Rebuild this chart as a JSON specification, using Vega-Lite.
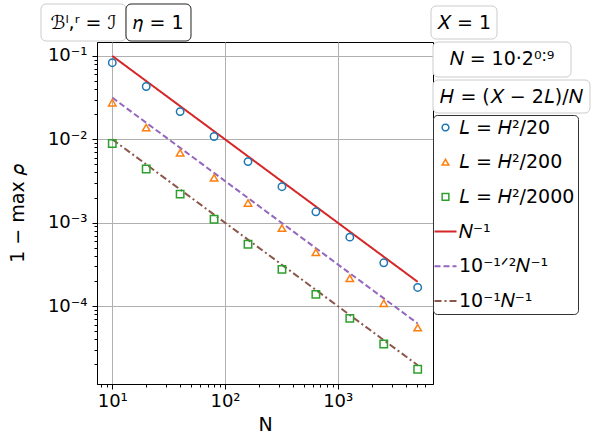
{
  "$schema": "https://vega.github.io/schema/vega-lite/v6.json",
  "width": 336,
  "height": 342,
  "autosize": {"type": "none"},
  "padding": {"left": 97, "top": 42, "right": 165, "bottom": 62},
  "background": "white",
  "config": {
    "view": {"stroke": "black", "strokeWidth": 1},
    "font": "DejaVu Sans",
    "axis": {
      "labelFont": "DejaVu Sans", "titleFont": "DejaVu Sans",
      "labelFontSize": 18, "titleFontSize": 19, "titleFontWeight": "normal",
      "labelColor": "black", "titleColor": "black",
      "domainColor": "black", "tickColor": "black",
      "gridColor": "#b0b0b0", "gridWidth": 1,
      "labelOverlap": false, "labelFlush": false
    },
    "legend": {"labelFont": "DejaVu Sans", "labelFontSize": 19, "labelColor": "black", "labelLimit": 400},
    "text": {"font": "DejaVu Sans", "fontSize": 19, "color": "black"}
  },
  "datasets": {
    "pts": [
      {"N": 10, "rho": 0.083, "series": "𝐿 = 𝐻²/20"},
      {"N": 20, "rho": 0.043, "series": "𝐿 = 𝐻²/20"},
      {"N": 40, "rho": 0.0215, "series": "𝐿 = 𝐻²/20"},
      {"N": 80, "rho": 0.0108, "series": "𝐿 = 𝐻²/20"},
      {"N": 160, "rho": 0.0054, "series": "𝐿 = 𝐻²/20"},
      {"N": 320, "rho": 0.0027, "series": "𝐿 = 𝐻²/20"},
      {"N": 640, "rho": 0.00135, "series": "𝐿 = 𝐻²/20"},
      {"N": 1280, "rho": 0.00067, "series": "𝐿 = 𝐻²/20"},
      {"N": 2560, "rho": 0.00033, "series": "𝐿 = 𝐻²/20"},
      {"N": 5120, "rho": 0.000167, "series": "𝐿 = 𝐻²/20"},
      {"N": 10, "rho": 0.0275, "series": "𝐿 = 𝐻²/200"},
      {"N": 20, "rho": 0.0138, "series": "𝐿 = 𝐻²/200"},
      {"N": 40, "rho": 0.0069, "series": "𝐿 = 𝐻²/200"},
      {"N": 80, "rho": 0.00345, "series": "𝐿 = 𝐻²/200"},
      {"N": 160, "rho": 0.00172, "series": "𝐿 = 𝐻²/200"},
      {"N": 320, "rho": 0.00086, "series": "𝐿 = 𝐻²/200"},
      {"N": 640, "rho": 0.00044, "series": "𝐿 = 𝐻²/200"},
      {"N": 1280, "rho": 0.000215, "series": "𝐿 = 𝐻²/200"},
      {"N": 2560, "rho": 0.000108, "series": "𝐿 = 𝐻²/200"},
      {"N": 5120, "rho": 0.000055, "series": "𝐿 = 𝐻²/200"},
      {"N": 10, "rho": 0.0089, "series": "𝐿 = 𝐻²/2000"},
      {"N": 20, "rho": 0.0044, "series": "𝐿 = 𝐻²/2000"},
      {"N": 40, "rho": 0.0022, "series": "𝐿 = 𝐻²/2000"},
      {"N": 80, "rho": 0.0011, "series": "𝐿 = 𝐻²/2000"},
      {"N": 160, "rho": 0.00055, "series": "𝐿 = 𝐻²/2000"},
      {"N": 320, "rho": 0.000275, "series": "𝐿 = 𝐻²/2000"},
      {"N": 640, "rho": 0.000138, "series": "𝐿 = 𝐻²/2000"},
      {"N": 1280, "rho": 0.000071, "series": "𝐿 = 𝐻²/2000"},
      {"N": 2560, "rho": 0.000035, "series": "𝐿 = 𝐻²/2000"},
      {"N": 5120, "rho": 0.0000174, "series": "𝐿 = 𝐻²/2000"}
    ],
    "lns": [
      {"N": 10, "rho": 0.1, "series": "𝑁⁻¹"},
      {"N": 5120, "rho": 0.000195, "series": "𝑁⁻¹"},
      {"N": 10, "rho": 0.0316, "series": "10⁻¹ᐟ²𝑁⁻¹"},
      {"N": 5120, "rho": 0.0000618, "series": "10⁻¹ᐟ²𝑁⁻¹"},
      {"N": 10, "rho": 0.01, "series": "10⁻¹𝑁⁻¹"},
      {"N": 5120, "rho": 0.0000195, "series": "10⁻¹𝑁⁻¹"}
    ]
  },
  "layer": [
    {
      "data": {"name": "lns"},
      "mark": {"type": "line", "strokeWidth": 2},
      "encoding": {
        "x": {
          "field": "N", "type": "quantitative",
          "scale": {"type": "log", "domain": [7.32, 7000], "nice": false},
          "axis": {
            "title": "N", "titlePadding": 5,
            "values": [8, 9, 10, 20, 30, 40, 50, 60, 70, 80, 90, 100, 200, 300, 400, 500, 600, 700, 800, 900, 1000, 2000, 3000, 4000, 5000, 6000],
            "labelExpr": "datum.value == 10 ? '10¹' : datum.value == 100 ? '10²' : datum.value == 1000 ? '10³' : ''",
            "grid": true,
            "gridOpacity": {"condition": {"test": "indexof([10, 100, 1000], datum.value) >= 0", "value": 1}, "value": 0},
            "tickSize": {"condition": {"test": "indexof([10, 100, 1000], datum.value) >= 0", "value": 5}, "value": 3},
            "labelPadding": 3
          }
        },
        "y": {
          "field": "rho", "type": "quantitative",
          "scale": {"type": "log", "domain": [0.0000116, 0.147], "nice": false},
          "axis": {
            "title": "1 − max 𝜌", "titlePadding": 20,
            "values": [0.00002, 0.00003, 0.00004, 0.00005, 0.00006, 0.00007, 0.00008, 0.00009, 0.0001, 0.0002, 0.0003, 0.0004, 0.0005, 0.0006, 0.0007, 0.0008, 0.0009, 0.001, 0.002, 0.003, 0.004, 0.005, 0.006, 0.007, 0.008, 0.009, 0.01, 0.02, 0.03, 0.04, 0.05, 0.06, 0.07, 0.08, 0.09, 0.1],
            "labelExpr": "datum.value == 0.1 ? '10⁻¹' : datum.value == 0.01 ? '10⁻²' : datum.value == 0.001 ? '10⁻³' : datum.value == 0.0001 ? '10⁻⁴' : ''",
            "grid": true,
            "gridOpacity": {"condition": {"test": "indexof([0.1, 0.01, 0.001, 0.0001], datum.value) >= 0", "value": 1}, "value": 0},
            "tickSize": {"condition": {"test": "indexof([0.1, 0.01, 0.001, 0.0001], datum.value) >= 0", "value": 5}, "value": 3},
            "labelPadding": 5
          }
        },
        "color": {
          "field": "series", "type": "nominal",
          "scale": {
            "domain": ["𝐿 = 𝐻²/20", "𝐿 = 𝐻²/200", "𝐿 = 𝐻²/2000", "𝑁⁻¹", "10⁻¹ᐟ²𝑁⁻¹", "10⁻¹𝑁⁻¹"],
            "range": ["#1f77b4", "#ff7f0e", "#2ca02c", "#d62728", "#9467bd", "#8c564b"]
          },
          "legend": {
            "title": null, "orient": "none", "legendX": 336, "legendY": 73,
            "padding": 3, "strokeColor": "#333333", "cornerRadius": 4, "fillColor": "white",
            "symbolSize": 484, "labelOffset": 4, "rowPadding": 14.7, "labelFontSize": 19,
            "encode": {
              "symbols": {
                "update": {
                  "shape": {"signal": "datum.value == '𝐿 = 𝐻²/20' ? 'circle' : datum.value == '𝐿 = 𝐻²/200' ? 'triangle-up' : datum.value == '𝐿 = 𝐻²/2000' ? 'square' : 'stroke'"},
                  "size": {"signal": "indexof(['𝑁⁻¹', '10⁻¹ᐟ²𝑁⁻¹', '10⁻¹𝑁⁻¹'], datum.value) >= 0 ? 484 : 45"},
                  "strokeDash": {"signal": "datum.value == '10⁻¹ᐟ²𝑁⁻¹' ? [6, 3] : datum.value == '10⁻¹𝑁⁻¹' ? [7, 3, 2, 3] : [1, 0]"},
                  "strokeWidth": {"signal": "indexof(['𝑁⁻¹', '10⁻¹ᐟ²𝑁⁻¹', '10⁻¹𝑁⁻¹'], datum.value) >= 0 ? 2 : 1.5"},
                  "fill": {"value": "transparent"}
                }
              }
            }
          }
        },
        "strokeDash": {
          "field": "series", "type": "nominal",
          "scale": {"domain": ["𝑁⁻¹", "10⁻¹ᐟ²𝑁⁻¹", "10⁻¹𝑁⁻¹"], "range": [[1, 0], [6, 3], [7, 3, 2, 3]]},
          "legend": null
        }
      }
    },
    {
      "data": {"name": "pts"},
      "mark": {"type": "point", "filled": false, "size": 55, "strokeWidth": 1.5, "opacity": 1},
      "encoding": {
        "x": {"field": "N", "type": "quantitative"},
        "y": {"field": "rho", "type": "quantitative"},
        "color": {"field": "series", "type": "nominal"},
        "shape": {
          "field": "series", "type": "nominal",
          "scale": {"domain": ["𝐿 = 𝐻²/20", "𝐿 = 𝐻²/200", "𝐿 = 𝐻²/2000"], "range": ["circle", "triangle-up", "square"]},
          "legend": null
        }
      }
    },
    {
      "data": {"values": [{"label": "ℬˡ,ʳ = ℐ"}]},
      "layer": [
        {"mark": {"type": "rect", "fill": "white", "stroke": "#cccccc", "strokeWidth": 1, "cornerRadius": 5},
         "encoding": {"x": {"datum": 2.332, "type": "quantitative"}, "x2": {"datum": 13.24}, "y": {"datum": 0.42, "type": "quantitative"}, "y2": {"datum": 0.1511}}},
        {"mark": {"type": "text", "align": "center", "baseline": "middle"},
         "encoding": {"x": {"datum": 5.556, "type": "quantitative"}, "y": {"datum": 0.2519, "type": "quantitative"}, "text": {"field": "label"}}}
      ]
    },
    {
      "data": {"values": [{"label": "𝜂 = 1"}]},
      "layer": [
        {"mark": {"type": "rect", "fill": "white", "stroke": "#222222", "strokeWidth": 1, "cornerRadius": 5},
         "encoding": {"x": {"datum": 13.24, "type": "quantitative"}, "x2": {"datum": 49.93}, "y": {"datum": 0.42, "type": "quantitative"}, "y2": {"datum": 0.1511}}},
        {"mark": {"type": "text", "align": "center", "baseline": "middle"},
         "encoding": {"x": {"datum": 25.7, "type": "quantitative"}, "y": {"datum": 0.2519, "type": "quantitative"}, "text": {"field": "label"}}}
      ]
    },
    {
      "data": {"values": [{"label": "𝑋 = 1"}]},
      "layer": [
        {"mark": {"type": "rect", "fill": "white", "stroke": "#cccccc", "strokeWidth": 1, "cornerRadius": 5},
         "encoding": {"x": {"datum": 6720, "type": "quantitative"}, "x2": {"datum": 25870}, "y": {"datum": 0.3974, "type": "quantitative"}, "y2": {"datum": 0.1597}}},
        {"mark": {"type": "text", "align": "center", "baseline": "middle"},
         "encoding": {"x": {"datum": 13190, "type": "quantitative"}, "y": {"datum": 0.2519, "type": "quantitative"}, "text": {"field": "label"}}}
      ]
    },
    {
      "data": {"values": [{"label": "𝑁 = 10·2⁰˸⁹"}]},
      "layer": [
        {"mark": {"type": "rect", "fill": "white", "stroke": "#cccccc", "strokeWidth": 1, "cornerRadius": 5},
         "encoding": {"x": {"datum": 7000, "type": "quantitative"}, "x2": {"datum": 117300}, "y": {"datum": 0.147, "type": "quantitative"}, "y2": {"datum": 0.05588}}},
        {"mark": {"type": "text", "align": "center", "baseline": "middle"},
         "encoding": {"x": {"datum": 28660, "type": "quantitative"}, "y": {"datum": 0.09066, "type": "quantitative"}, "text": {"field": "label"}}}
      ]
    },
    {
      "data": {"values": [{"label": "𝐻 = (𝑋 − 2𝐿)/𝑁"}]},
      "layer": [
        {"mark": {"type": "rect", "fill": "white", "stroke": "#cccccc", "strokeWidth": 1, "cornerRadius": 5},
         "encoding": {"x": {"datum": 7000, "type": "quantitative"}, "x2": {"datum": 172900}, "y": {"datum": 0.05145, "type": "quantitative"}, "y2": {"datum": 0.02068}}},
        {"mark": {"type": "text", "align": "center", "baseline": "middle"},
         "encoding": {"x": {"datum": 34790, "type": "quantitative"}, "y": {"datum": 0.03262, "type": "quantitative"}, "text": {"field": "label"}}}
      ]
    }
  ]
}
